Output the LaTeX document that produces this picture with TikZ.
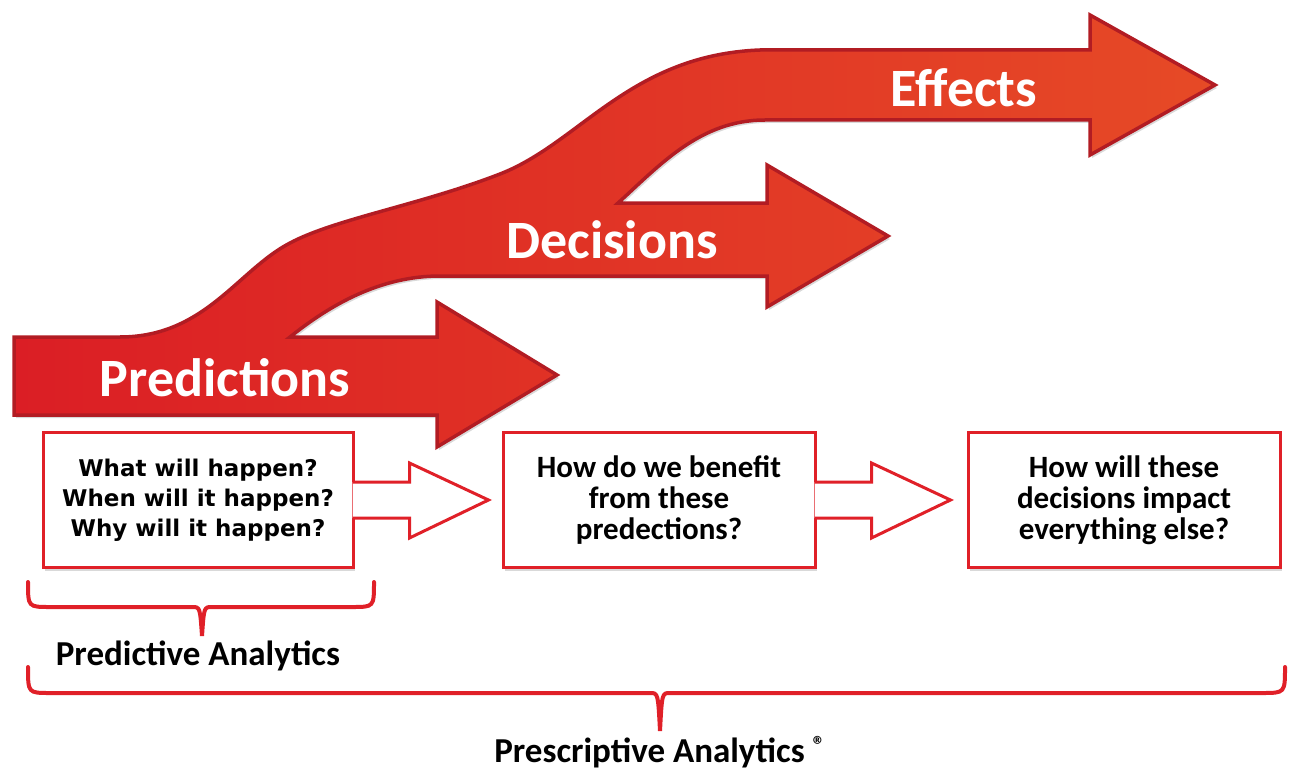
\documentclass[tikz,border=0pt]{standalone}
\usepackage{fontspec}
\setmainfont{Carlito}
\newfontfamily\qfont{DejaVu Sans}
\usetikzlibrary{shadows}
\definecolor{arrowred}{RGB}{219,30,37}
\definecolor{arroworange}{RGB}{230,74,38}
\definecolor{arrowedge}{RGB}{178,28,35}
\definecolor{boxred}{RGB}{224,32,40}

\begin{document}
\begin{tikzpicture}[x=1pt,y=-1pt,
	band/.style={draw=arrowedge,line width=3.5pt,line join=miter,left color=arrowred,right color=arroworange,
		drop shadow={shadow xshift=2pt,shadow yshift=-3pt,opacity=.3}},
	bandtext/.style={text=white,font=\bfseries\fontsize{54}{60}\selectfont},
	qbox/.style={draw=boxred,line width=3pt,fill=white,minimum width=310pt,minimum height=135pt,
		inner sep=0pt,align=center,drop shadow={shadow xshift=2pt,shadow yshift=-3pt,opacity=.3}},
	hollow/.style={draw=boxred,line width=3pt,fill=white,line join=miter},
	curly/.style={draw=boxred,line width=4pt,line cap=round},
	analytics/.style={font=\bfseries\fontsize{35}{40}\selectfont}]
	\useasboundingbox (0,0) rectangle (1289,770);
	% the three joined arrows
	\path[band] (14,415) -- (14,337) -- (120,337)
	.. controls (205,337) and (238,270) .. (290,243)
	.. controls (335,219) and (420,205) .. (500,174)
	.. controls (580,143) and (630,55) .. (760,50)
	-- (1090,50) -- (1090,15) -- (1215,85) -- (1090,155) -- (1090,120) -- (765,120)
	.. controls (700,120) and (660,165) .. (618,203)
	-- (767,203) -- (767,165) -- (888,236) -- (767,307) -- (767,276) -- (440,276)
	.. controls (380,276) and (330,305) .. (290,337)
	-- (437,337) -- (437,302) -- (557,375) -- (437,447) -- (437,415) -- cycle;
	\node[bandtext] (pred) at (225,378) {Predictions};
	\node[bandtext] (dec) at (612,240) {Decisions};
	\node[bandtext] (eff) at (964,88) {Effects};
	% question boxes
	\node[qbox,font=\qfont\bfseries\fontsize{23}{30}\selectfont] (b1) at (198,500) {What will happen?\\When will it happen?\\Why will it happen?};
	\node[qbox,minimum width=312pt,font=\bfseries\fontsize{31}{31}\selectfont] (b2) at (659,500) {How do we benefit\\from these\\predections?};
	\node[qbox,minimum width=312pt,font=\bfseries\fontsize{31}{31}\selectfont] (b3) at (1124,500) {How will these\\decisions impact\\everything else?};
	\draw[hollow] ([xshift=-2pt,yshift=18pt]b1.east) -- ++(57,0) -- ++(0,-19) -- ++(79,37) -- ++(-79,38) -- ++(0,-20) -- ++(-57,0);
	\draw[hollow] ([xshift=-2pt,yshift=18pt]b2.east) -- ++(57,0) -- ++(0,-19) -- ++(79,37) -- ++(-79,38) -- ++(0,-20) -- ++(-57,0);
	% braces
	\draw[curly] (28,582) .. controls (28,607) .. (50,607) -- (192,607)
	.. controls (200,607) .. (202,636) .. controls (204,607) .. (212,607)
	-- (352,607) .. controls (374,607) .. (374,582);
	\draw[curly] (28,667) .. controls (28,693) .. (50,693) -- (650,693)
	.. controls (658,693) .. (660,731) .. controls (662,693) .. (670,693)
	-- (1262,693) .. controls (1285,693) .. (1285,667);
	\node[analytics] (pa) at (198,656) {Predictive Analytics};
	\node[analytics] (psa) at (660,752) {Prescriptive Analytics \textsuperscript{®}};
\end{tikzpicture}
\end{document}
